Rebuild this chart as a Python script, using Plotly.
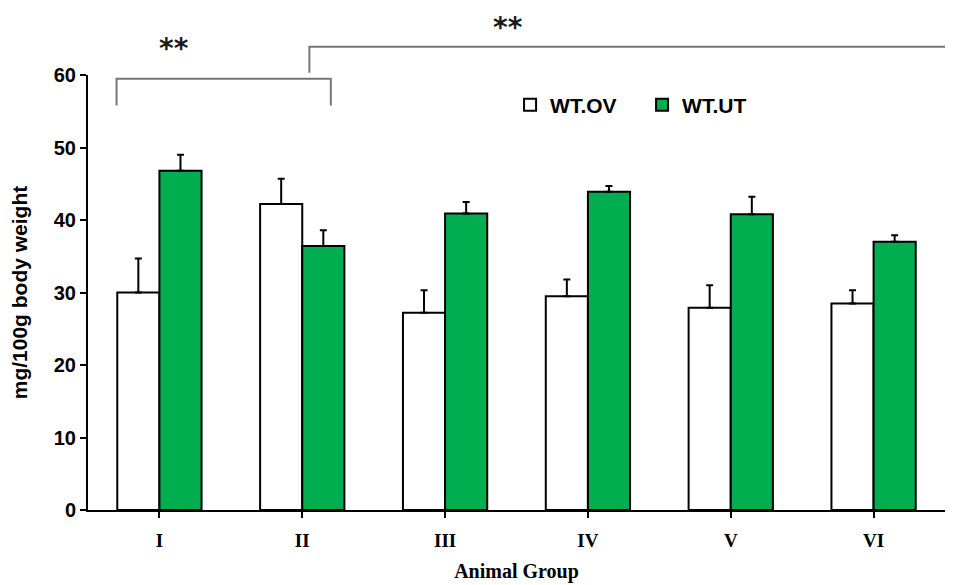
import plotly.graph_objects as go

groups = ["I", "II", "III", "IV", "V", "VI"]
wt_ov = [30.0, 42.2, 27.2, 29.5, 27.9, 28.5]
wt_ov_err = [4.7, 3.5, 3.1, 2.3, 3.1, 1.8]
wt_ut = [46.8, 36.4, 40.9, 43.9, 40.8, 37.0]
wt_ut_err = [2.2, 2.2, 1.6, 0.8, 2.4, 0.9]
y_ticks = [0, 10, 20, 30, 40, 50, 60]

# significance brackets in data units (label y = top of label box)
bracket1 = dict(x0=-0.3, x1=1.2, ytop=59.5, ydrop=55.8, label="**", lx=0.1, ly=66.1)
bracket2 = dict(x0=1.05, x1=5.6, ytop=63.9, ydrop=60.3, label="**", lx=2.44, ly=69.0)

green = "#00AE4F"
y_max = 60
n = len(groups)

fig = go.Figure()
fig.add_trace(go.Bar(
    x=groups, y=wt_ov, name="WT.OV",
    marker=dict(color="white", line=dict(color="black", width=2)),
    error_y=dict(type="data", array=wt_ov_err, arrayminus=[0]*n, symmetric=False,
                 color="black", thickness=2, width=3.5),
))
fig.add_trace(go.Bar(
    x=groups, y=wt_ut, name="WT.UT",
    marker=dict(color=green, line=dict(color="black", width=2)),
    error_y=dict(type="data", array=wt_ut_err, arrayminus=[0]*n, symmetric=False,
                 color="black", thickness=2, width=3.5),
))

def px(x):
    return (x + 0.5) / n

def py(y):
    return y / y_max

shapes = []
annotations = []
for b in (bracket1, bracket2):
    path = (f"M {px(b['x0'])},{py(b['ydrop'])} L {px(b['x0'])},{py(b['ytop'])} "
            f"L {px(b['x1'])},{py(b['ytop'])} L {px(b['x1'])},{py(b['ydrop'])}")
    shapes.append(dict(type="path", xref="paper", yref="paper", path=path,
                       line=dict(color="#767676", width=2)))
    annotations.append(dict(x=px(b["lx"]), y=py(b["ly"]), xref="paper", yref="paper",
                            xanchor="center", yanchor="top", borderpad=0,
                            text="<b>" + b["label"] + "</b>", showarrow=False,
                            font=dict(family="DejaVu Sans", size=28, color="#1a1a1a")))

fig.update_layout(
    width=945, height=577,
    margin=dict(l=80, r=8, t=67, b=75),
    paper_bgcolor="white", plot_bgcolor="white",
    barmode="group", bargap=0.41, bargroupgap=0,
    shapes=shapes, annotations=annotations,
    showlegend=True,
    legend=dict(orientation="h", x=0.4925, y=0.931, xanchor="left", yanchor="middle",
                font=dict(family="Liberation Sans", size=21, color="black", weight="bold"),
                itemwidth=30, entrywidth=87, bgcolor="rgba(0,0,0,0)"),
    xaxis=dict(
        automargin=False,
        showline=True, linecolor="black", linewidth=2,
        ticks="outside", ticklen=6, tickwidth=2, tickcolor="black",
        ticklabelstandoff=6,
        tickfont=dict(family="Liberation Serif", size=19, color="black", weight="bold"),
        title=dict(text="Animal Group", standoff=14,
                   font=dict(family="Liberation Serif", size=20, color="black", weight="bold")),
        showgrid=False, zeroline=False,
    ),
    yaxis=dict(
        automargin=False,
        range=[0, y_max], tickvals=y_ticks,
        showline=True, linecolor="black", linewidth=2,
        ticks="outside", ticklen=6, tickwidth=2, tickcolor="black",
        tickfont=dict(family="Liberation Sans", size=20, color="black", weight="bold"),
        title=dict(text="mg/100g body weight", standoff=20,
                   font=dict(family="Liberation Sans", size=21, color="black", weight="bold")),
        showgrid=False, zeroline=False,
    ),
)

fig.write_html("out.html")
